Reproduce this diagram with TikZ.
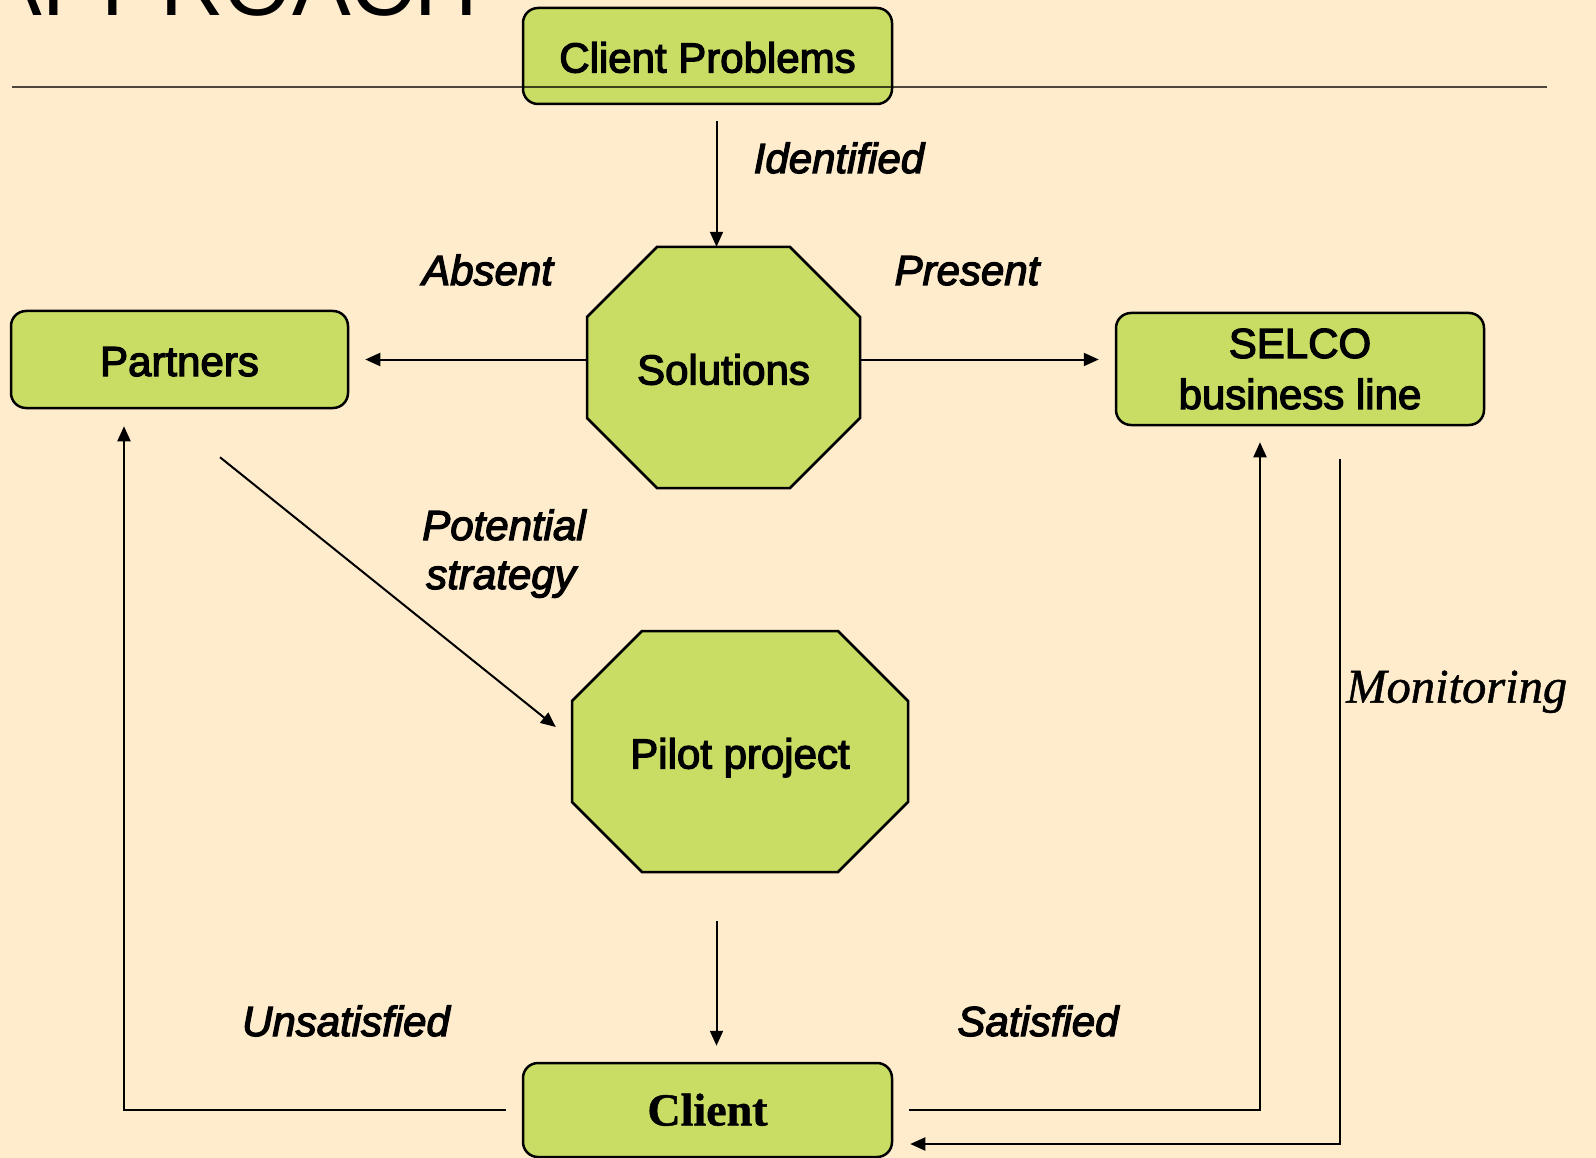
\documentclass[tikz,border=0pt]{standalone}
\usepackage{fontspec}
\setmainfont[FakeBold=3]{Liberation Sans}
\newfontfamily\titlefont{Liberation Sans}
\newfontfamily\serifrm[FakeBold=1]{Liberation Serif}
\usetikzlibrary{arrows.meta}
\definecolor{bg}{HTML}{FFECCD}
\definecolor{boxgreen}{HTML}{C9DC63}
\tikzset{
  every node/.style={inner sep=0pt},
  box/.style={draw=black, line width=2.5pt, fill=boxgreen, rounded corners=15pt,
    font=\fontsize{42}{49}\selectfont, align=center, text height=33pt, text depth=0pt},
  box2/.style={draw=black, line width=2.5pt, fill=boxgreen, rounded corners=15pt,
    font=\fontsize{42}{51}\selectfont, align=center},
  octtext/.style={font=\fontsize{42}{49}\selectfont, text height=34pt, text depth=0pt},
  oct/.style={draw=black, line width=2.5pt, fill=boxgreen, line join=miter},
  lbl/.style={anchor=base, font=\fontsize{42}{49}\selectfont\itshape},
  arr/.style={draw=black, line width=2pt, -{Triangle[length=15pt,width=13pt]}},
  rule/.style={draw=black, opacity=0.7, line width=2pt},
}
\begin{document}
\begin{tikzpicture}[x=1pt,y=-1pt]
\fill[bg] (0,0) rectangle (1596,1158);
\useasboundingbox (0,0) rectangle (1596,1158);

% title (cut off at the top, as in the reference)
\node[anchor=base east, font=\fontsize{88}{100}\selectfont\titlefont] (title) at (478,16) {APPROACH};

% nodes
\node[box, minimum width=369pt, minimum height=96pt] (cp) at (707.5,56) {Client Problems};
\draw[rule] (12,87.5) coordinate (rl) -- (1547,87.5) coordinate (rr);

\path[oct] (657,247) -- (790,247) -- (860,317) -- (860,418) -- (790,488) -- (657,488) -- (587,418) -- (587,317) -- cycle;
\node[octtext, minimum width=273pt, minimum height=241pt] (sol) at (723.5,367.5) {Solutions};

\path[oct] (642,631) -- (838,631) -- (908,701) -- (908,802) -- (838,872) -- (642,872) -- (572,802) -- (572,701) -- cycle;
\node[octtext, minimum width=336pt, minimum height=241pt] (pil) at (740,751.5) {Pilot project};

\node[box, minimum width=337pt, minimum height=97pt] (par) at (179.5,359.5) {Partners};
\node[box2, minimum width=368pt, minimum height=112pt] (sel) at (1300,369) {SELCO\\business line};
\node[box, font=\fontsize{46}{52}\selectfont\serifrm\bfseries, text height=31pt, minimum width=369pt, minimum height=94pt] (cl) at (707.5,1110) {Client};

% connectors
\draw[arr, shorten <=16pt] ([xshift=9pt]cp.south) -- ([xshift=9pt]cp.south |- sol.north);
\draw[arr, shorten >=16pt] (par.east -| sol.west) -- (par.east);
\draw[arr, shorten >=16pt] (par.east -| sol.east) -- (par.east -| sel.west);
\draw[arr] ([xshift=40.5pt,yshift=-48pt]par.south) -- ([xshift=-16pt,yshift=24.5pt]pil.west);
\draw[arr, shorten <=49pt, shorten >=16pt] ([xshift=9pt]cl.north |- pil.south) -- ([xshift=9pt]cl.north);
\draw[arr, shorten <=16pt, shorten >=17pt] (cl.west) -| ([xshift=-55.5pt]par.south);
\draw[arr, shorten <=16pt, shorten >=16pt] (cl.east) -| ([xshift=-40pt]sel.south);
\draw[arr, shorten <=33pt, shorten >=17pt] ([xshift=39.5pt]sel.south) |- ([yshift=-34pt]cl.east);

% labels
\node[lbl] (lid) at (839,173) {Identified};
\node[lbl] (lab) at (487.6,285) {Absent};
\node[lbl] (lpr) at (967,285) {Present};
\node[lbl] (lpo) at (504,540) {Potential};
\node[lbl] (lst) at (501,589) {strategy};
\node[lbl] (lun) at (346,1036) {Unsatisfied};
\node[lbl] (lsa) at (1038,1036) {Satisfied};
\node[anchor=base west, font=\fontsize{48.5}{54}\selectfont\serifrm\itshape] (lmo) at (1346,702.7) {Monitoring};
\end{tikzpicture}
\end{document}
